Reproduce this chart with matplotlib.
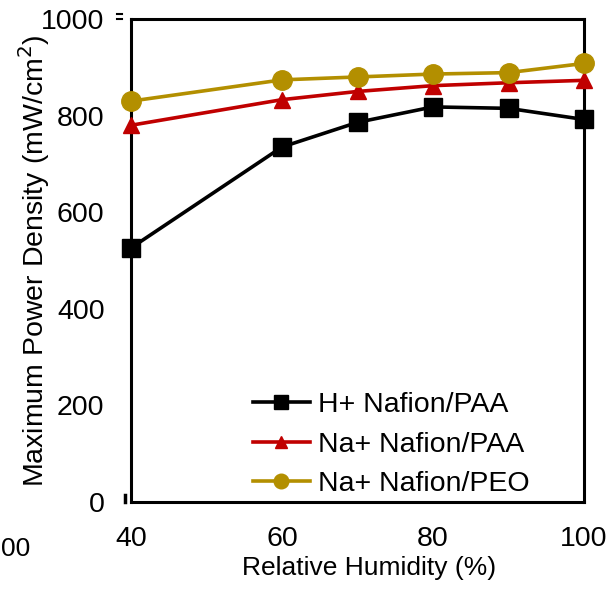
import matplotlib
matplotlib.use("Agg")
import matplotlib.pyplot as plt

plt.rcParams['font.family'] = ['Liberation Sans', 'DejaVu Sans']

# relative humidity (%) and max power density (mW/cm2)
rh = [40, 60, 70, 80, 90, 100]
h_paa = [526, 735, 786, 818, 815, 792]
na_paa = [780, 833, 850, 862, 868, 873]
na_peo = [830, 874, 880, 886, 889, 908]

gold = '#B38F00'
red = '#C00000'
fs = 20.5

fig = plt.figure(figsize=(6.12, 5.89), dpi=100)
ax = fig.add_axes([131/612, 1 - 502/589, 453/612, 483/589])

ax.plot(rh, h_paa, color='black', lw=2.6, marker='s', ms=13, label='H+ Nafion/PAA', clip_on=False, zorder=3)
ax.plot(rh, na_paa, color=red, lw=2.6, marker='^', ms=11, label='Na+ Nafion/PAA', clip_on=False, zorder=3)
ax.plot(rh, na_peo, color=gold, lw=2.6, marker='o', ms=14, label='Na+ Nafion/PEO', clip_on=False, zorder=3)

ax.set_xlim(40, 100)
ax.set_ylim(0, 1000)
ax.set_xticks([40, 60, 80, 100])
ax.set_yticks([0, 200, 400, 600, 800, 1000])
ax.tick_params(length=0, labelsize=fs)
ax.tick_params(axis='y', pad=19)
ax.tick_params(axis='x', pad=17)
for s in ax.spines.values():
    s.set_linewidth(2.2)

ax.set_xlabel('Relative Humidity (%)', fontsize=19, labelpad=3, x=0.525)
ax.set_ylabel('Maximum Power Density (mW/cm$^2$)', fontsize=fs, labelpad=-8)

ax.legend(loc='lower right', bbox_to_anchor=(0.918, -0.025), frameon=False, fontsize=fs,
          handlelength=2.0, handletextpad=0.3, labelspacing=0.47, borderaxespad=0.2,
          markerscale=0.75)

# small leftover marks beside the axis
fig.add_artist(plt.Line2D([117/612, 122/612], [1 - 14/589, 1 - 14/589], color='black', lw=1.5))
fig.add_artist(plt.Line2D([117/612, 122/612], [1 - 19/589, 1 - 19/589], color='black', lw=1.5))
fig.add_artist(plt.Line2D([124.5/612, 124.5/612], [1 - 502/589, 1 - 495/589], color='black', lw=2.5))
fig.text(0.5/612, 1 - 549/589, '00', fontsize=19, va='center', ha='left')

fig.savefig('out.png', dpi=100)
